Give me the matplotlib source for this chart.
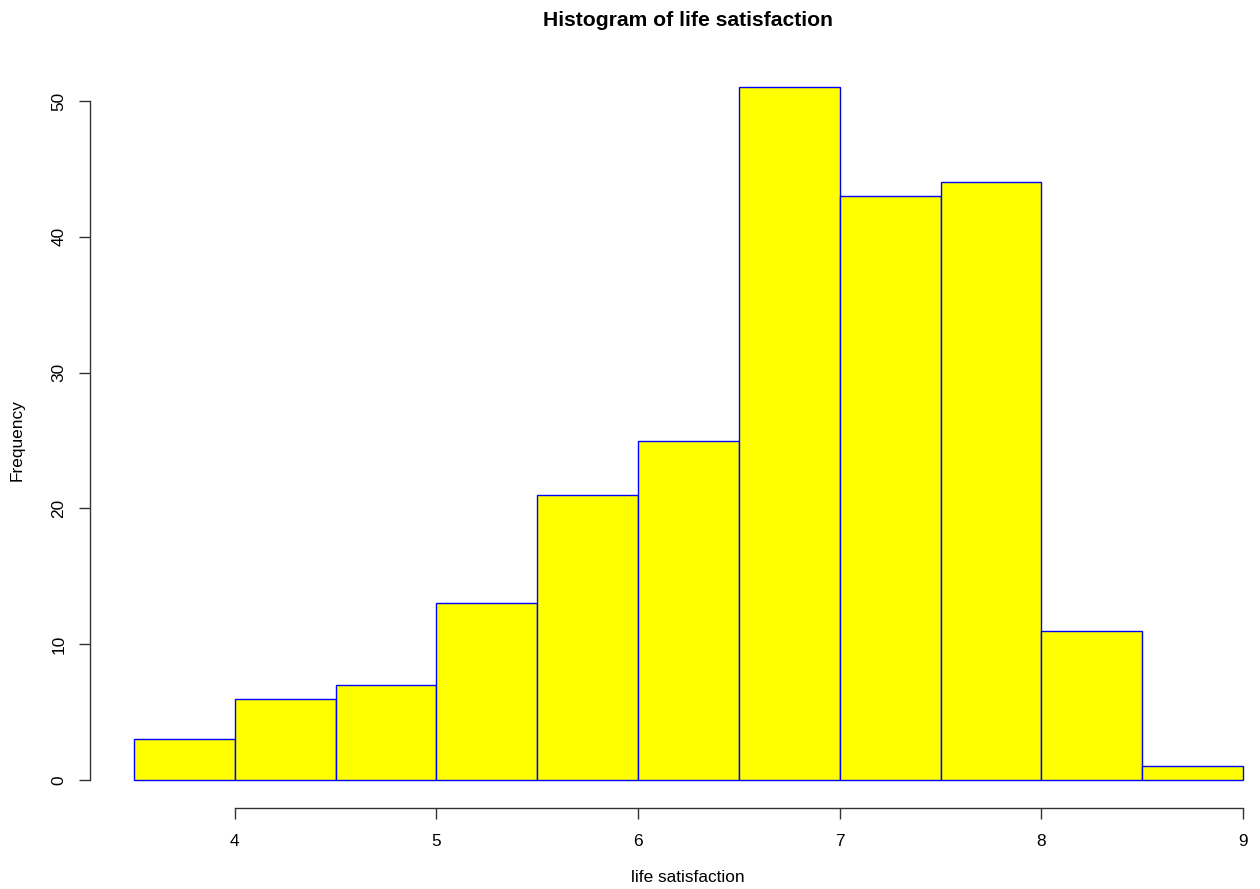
import matplotlib
matplotlib.use("Agg")
import matplotlib.pyplot as plt

plt.rcParams['font.family'] = ['Liberation Sans', 'DejaVu Sans']

# Histogram bins of life satisfaction and their counts
bin_edges = [3.5, 4.0, 4.5, 5.0, 5.5, 6.0, 6.5, 7.0, 7.5, 8.0, 8.5, 9.0]
counts = [3, 6, 7, 13, 21, 25, 51, 43, 44, 11, 1]
x_ticks = [4, 5, 6, 7, 8, 9]
y_ticks = [0, 10, 20, 30, 40, 50]

W, H = 1260, 889
fig = plt.figure(figsize=(W / 100, H / 100), dpi=100)

# data region in pixels: x 3.5 -> 134, 9 -> 1243; y 0 -> 780, 50 -> 101
left_px, right_px = 134, 1243
y0_px, y50_px = 780, 101
ax = fig.add_axes([left_px / W, (H - y0_px) / H,
                   (right_px - left_px) / W, (y0_px - y50_px) / H])
ax.set_xlim(3.5, 9.0)
ax.set_ylim(0, 50)

widths = [b - a for a, b in zip(bin_edges[:-1], bin_edges[1:])]
ax.bar(bin_edges[:-1], counts, width=widths, align='edge',
       color='#ffff00', edgecolor='#0000ff', linewidth=1.0, clip_on=False)

for s in ['top', 'right']:
    ax.spines[s].set_visible(False)
ax.spines['left'].set_position(('outward', 44 * 72 / 100))
ax.spines['bottom'].set_position(('outward', 28 * 72 / 100))
ax.spines['left'].set_bounds(0, 50)
ax.spines['bottom'].set_bounds(4, 9)
for s in ['left', 'bottom']:
    ax.spines[s].set_color('#333333')
    ax.spines[s].set_linewidth(1.0)

ax.set_xticks(x_ticks)
ax.set_xticklabels([str(v) for v in x_ticks])
ax.set_yticks(y_ticks)
ax.set_yticklabels([str(v) for v in y_ticks], rotation=90, va='center')
ax.tick_params(axis='both', direction='out', length=8, width=1.0,
               color='#333333', labelsize=12.4, labelcolor='#000000')
ax.tick_params(axis='x', pad=11)
ax.tick_params(axis='y', pad=9)

fig.text(688 / W, 1 - 20 / H, 'Histogram of life satisfaction',
         ha='center', va='center', fontsize=15.2, fontweight='bold')
fig.text(688 / W, 1 - 878 / H, 'life satisfaction',
         ha='center', va='center', fontsize=12.4)
fig.text(17 / W, 1 - 440 / H, 'Frequency', rotation=90,
         ha='center', va='center', fontsize=12.4)

fig.savefig('out.png', dpi=100, facecolor='white')
